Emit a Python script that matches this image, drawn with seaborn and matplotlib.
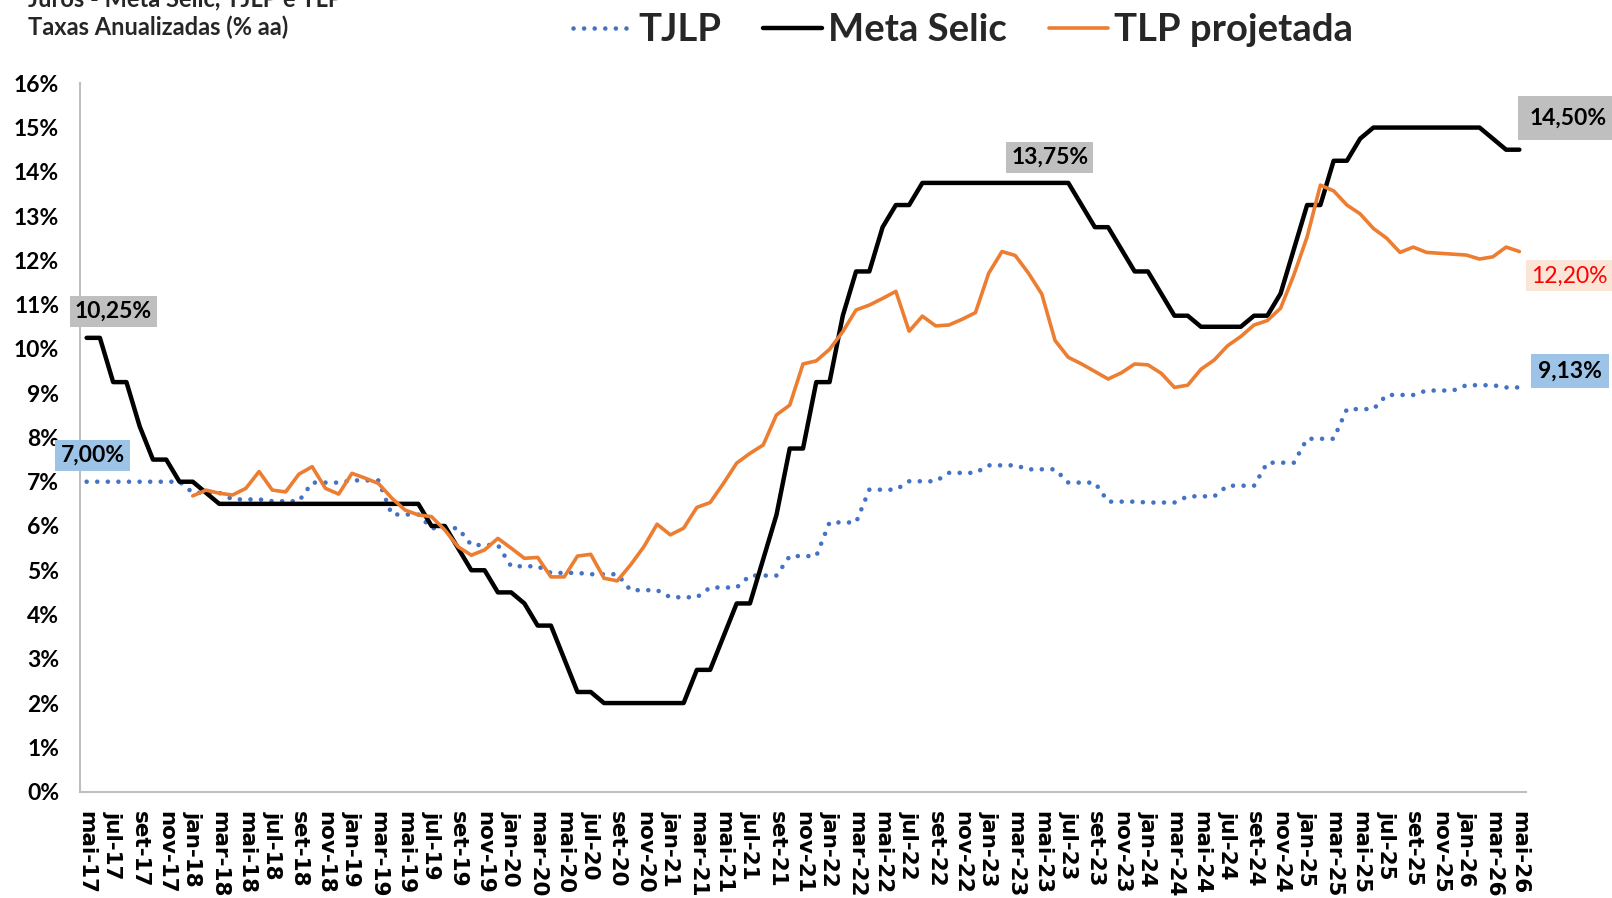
import numpy as np
import pandas as pd
import matplotlib
matplotlib.use("Agg")
import matplotlib.pyplot as plt
import seaborn as sns

# ---------------- data (monthly, mai-17 .. mai-26) ----------------
selic = [
    10.25, 10.25, 9.25, 9.25, 8.25, 7.5, 7.5, 7.0,                       # 2017 (mai-dez)
    7.0, 6.75, 6.5, 6.5, 6.5, 6.5, 6.5, 6.5, 6.5, 6.5, 6.5, 6.5,          # 2018
    6.5, 6.5, 6.5, 6.5, 6.5, 6.5, 6.0, 6.0, 5.5, 5.0, 5.0, 4.5,           # 2019
    4.5, 4.25, 3.75, 3.75, 3.0, 2.25, 2.25, 2.0, 2.0, 2.0, 2.0, 2.0,      # 2020
    2.0, 2.0, 2.75, 2.75, 3.5, 4.25, 4.25, 5.25, 6.25, 7.75, 7.75, 9.25,  # 2021
    9.25, 10.75, 11.75, 11.75, 12.75, 13.25, 13.25, 13.75, 13.75, 13.75, 13.75, 13.75,  # 2022
    13.75, 13.75, 13.75, 13.75, 13.75, 13.75, 13.75, 13.25, 12.75, 12.75, 12.25, 11.75,  # 2023
    11.75, 11.25, 10.75, 10.75, 10.5, 10.5, 10.5, 10.5, 10.75, 10.75, 11.25, 12.25,      # 2024
    13.25, 13.25, 14.25, 14.25, 14.75, 15.0, 15.0, 15.0, 15.0, 15.0, 15.0, 15.0,         # 2025
    15.0, 15.0, 14.75, 14.5, 14.5,                                                        # 2026 (jan-mai)
]

tjlp = [
    7.00, 7.00, 7.00, 7.00, 7.00, 7.00, 7.00, 7.00,
    6.75, 6.75, 6.75, 6.60, 6.60, 6.60, 6.56, 6.56, 6.56, 6.98, 6.98, 6.98,
    7.03, 7.03, 7.03, 6.26, 6.26, 6.26, 5.95, 5.95, 5.95, 5.57, 5.57, 5.57,
    5.09, 5.09, 5.09, 4.94, 4.94, 4.94, 4.91, 4.91, 4.91, 4.55, 4.55, 4.55,
    4.39, 4.39, 4.39, 4.61, 4.61, 4.61, 4.88, 4.88, 4.88, 5.32, 5.32, 5.32,
    6.08, 6.08, 6.08, 6.82, 6.82, 6.82, 7.01, 7.01, 7.01, 7.20, 7.20, 7.20,
    7.37, 7.37, 7.37, 7.28, 7.28, 7.28, 6.98, 6.98, 6.98, 6.55, 6.55, 6.55,
    6.53, 6.53, 6.53, 6.67, 6.67, 6.67, 6.91, 6.91, 6.91, 7.43, 7.43, 7.43,
    7.97, 7.97, 7.97, 8.64, 8.64, 8.64, 8.96, 8.96, 8.96, 9.06, 9.06, 9.06,
    9.18, 9.18, 9.18, 9.13, 9.13,
]

tlp = [
    np.nan, np.nan, np.nan, np.nan, np.nan, np.nan, np.nan, np.nan,
    6.68, 6.81, 6.74, 6.70, 6.85, 7.23, 6.81, 6.77, 7.17, 7.34, 6.85, 6.72,
    7.19, 7.08, 6.96, 6.63, 6.36, 6.25, 6.21, 5.91, 5.53, 5.34, 5.46, 5.72,
    5.50, 5.27, 5.29, 4.85, 4.85, 5.32, 5.36, 4.82, 4.76, 5.12, 5.53, 6.04,
    5.80, 5.95, 6.42, 6.53, 6.96, 7.42, 7.64, 7.83, 8.51, 8.73, 9.66, 9.73,
    9.99, 10.39, 10.88, 10.99, 11.14, 11.30, 10.40, 10.74, 10.52, 10.54, 10.67, 10.82,
    11.71, 12.20, 12.11, 11.71, 11.24, 10.19, 9.81, 9.66, 9.49, 9.32, 9.46, 9.66,
    9.64, 9.45, 9.13, 9.18, 9.54, 9.75, 10.07, 10.28, 10.54, 10.64, 10.92, 11.67,
    12.53, 13.70, 13.57, 13.25, 13.05, 12.72, 12.50, 12.18, 12.30, 12.18, 12.16, 12.14,
    12.12, 12.03, 12.08, 12.30, 12.20,
]

tick_labels = [
    "mai-17", "jul-17", "set-17", "nov-17",
    "jan-18", "mar-18", "mai-18", "jul-18", "set-18", "nov-18",
    "jan-19", "mar-19", "mai-19", "jul-19", "set-19", "nov-19",
    "jan-20", "mar-20", "mai-20", "jul-20", "set-20", "nov-20",
    "jan-21", "mar-21", "mai-21", "jul-21", "set-21", "nov-21",
    "jan-22", "mar-22", "mai-22", "jul-22", "set-22", "nov-22",
    "jan-23", "mar-23", "mai-23", "jul-23", "set-23", "nov-23",
    "jan-24", "mar-24", "mai-24", "jul-24", "set-24", "nov-24",
    "jan-25", "mar-25", "mai-25", "jul-25", "set-25", "nov-25",
    "jan-26", "mar-26", "mai-26",
]

series_names = ["TJLP", "Meta Selic", "TLP projetada"]
y_ticks = list(range(0, 17))

# ---------------- style ----------------
sns.set_theme(style="white")
plt.rcParams["font.family"] = ["Lato", "DejaVu Sans"]

W, H = 1612, 898
fig = plt.figure(figsize=(W / 100, H / 100), dpi=100)
ax = fig.add_axes([80 / W, 1 - 791.6 / H, (1526 - 80) / W, (791.6 - 83.3) / H])

months = np.arange(len(selic))
df = pd.DataFrame({"mes": months, "TJLP": tjlp, "Meta Selic": selic,
                   "TLP projetada": tlp})

sns.lineplot(data=df, x="mes", y="TJLP", ax=ax, color="#4472C4",
             linewidth=3.3, linestyle=(0, (0.01, 2.3)),
             dash_capstyle="round", label=series_names[0])
sns.lineplot(data=df, x="mes", y="Meta Selic", ax=ax, color="black",
             linewidth=3.2, label=series_names[1])
sns.lineplot(data=df.dropna(), x="mes", y="TLP projetada", ax=ax,
             color="#ED7D31", linewidth=2.6, label=series_names[2])

ax.set_xlim(-0.5, len(selic) - 0.5)
ax.set_ylim(0, 16)
ax.set_xlabel("")
ax.set_ylabel("")

ax.set_yticks(y_ticks)
ax.set_yticklabels([f"{v}%" for v in y_ticks], fontsize=16.5,
                   fontweight="bold", color="black")
ax.set_xticks(months[::2])
ax.set_xticklabels(tick_labels, rotation=-90, fontsize=15.5,
                   fontweight="bold", color="black",
                   family=["DejaVu Sans"])
ax.tick_params(axis="y", length=0, pad=15)
ax.tick_params(axis="x", length=0, pad=14)

for s in ["top", "right"]:
    ax.spines[s].set_visible(False)
for s in ["left", "bottom"]:
    ax.spines[s].set_color("#BFBFBF")
    ax.spines[s].set_linewidth(1.5)
ax.grid(False)

# legend
ax.get_legend().remove()
handles, labels = ax.get_legend_handles_labels()
fig.legend(handles, labels, loc="center", bbox_to_anchor=(963 / W, 1 - 30 / H),
           ncol=3, frameon=False,
           prop={"family": ["Lato", "DejaVu Sans"], "weight": "bold", "size": 27.5},
           handlelength=1.55, handletextpad=0.15, columnspacing=1.1)

# titles
fig.text(28 / W, 1 - 6 / H, "Juros - Meta Selic, TJLP e TLP", fontsize=17,
         fontweight="bold", va="baseline", ha="left")
fig.text(28 / W, 1 - 35 / H, "Taxas Anualizadas (% aa)", fontsize=17,
         fontweight="bold", va="baseline", ha="left")

# value boxes
GRAY, BLUE, SALMON = "#BFBFBF", "#9DC3E6", "#FBE5D6"


def box(x, y, s, fc, color="black", weight="bold", pad=0.22):
    ax.text(x, y, s, ha="center", va="center", fontsize=16.5,
            fontweight=weight, color=color, clip_on=False, zorder=5,
            bbox=dict(boxstyle=f"square,pad={pad}", fc=fc, ec="none"))


box(2.0, 10.85, "10,25%", GRAY)
box(0.45, 7.6, "7,00%", BLUE)
box(72.6, 14.33, "13,75%", GRAY)
box(111.7, 15.21, "14,50%", GRAY, pad=0.5)
box(111.8, 11.65, "12,20%", SALMON, color="#FF0000", weight="normal")
box(111.8, 9.5, "9,13%", BLUE, pad=0.3)

fig.savefig("out.png", dpi=100)
